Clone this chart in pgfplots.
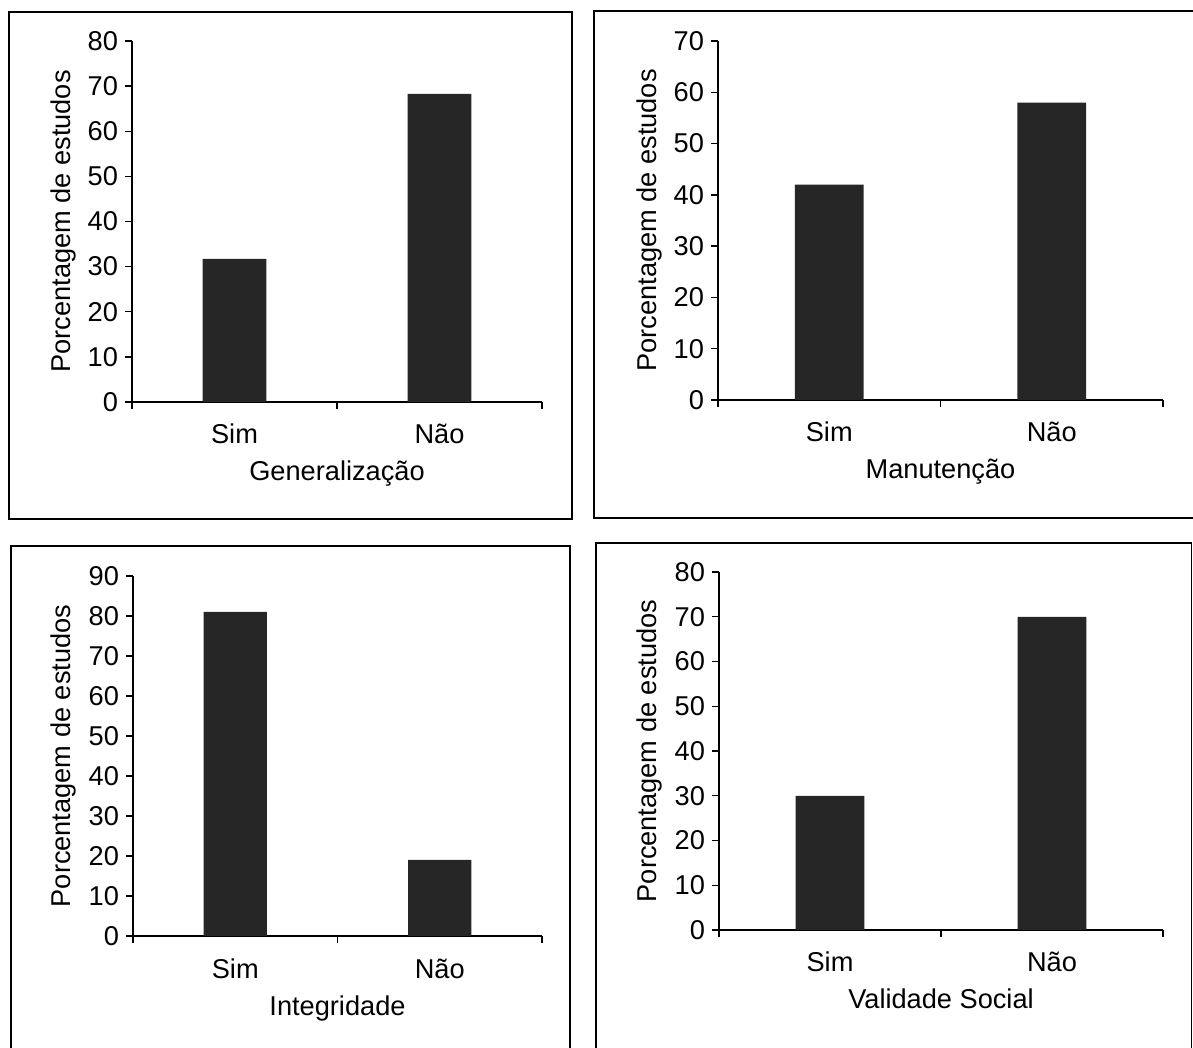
\documentclass[border=0pt]{standalone}
\usepackage{fontspec}
\setmainfont{Liberation Sans}
\usepackage{pgfplots}
\pgfplotsset{compat=1.18}
\definecolor{barc}{RGB}{38,38,38}
\newcommand{\fs}{\fontsize{13.6}{16}\selectfont}
\pgfplotsset{
  panel/.style={
    scale only axis,
    axis lines=left,
    axis line style={-, line width=0.9pt, black},
    tick align=outside,
    major tick length=3.5pt,
    tick style={black, line width=0.7pt},
    xmin=-0.5, xmax=1.5, ymin=0,
    ybar, bar width=0.31,
    xtick={-0.5,0.5,1.5}, xticklabels={},
    extra x ticks={0,1},
    extra x tick labels={Sim,Não},
    extra x tick style={major tick length=0pt, xticklabel style={anchor=base, yshift=-21pt}},
    ytick distance=10,
    /pgf/number format/assume math mode=true,
    tick label style={font=\fs},
    label style={font=\fs},
    ylabel={Porcentagem de estudos},
    xlabel style={at={(axis description cs:0.5,0)}, anchor=base, yshift=-39.5pt},
  },
  bars/.style={fill=barc, draw=none},
}
\begin{document}
\begin{tikzpicture}[x=0.5pt,y=0.5pt]
\path[use as bounding box] (0,0) rectangle (1193,1048);
% frames
\draw[line width=0.9pt] (9,1036) rectangle (572,529);
\draw[line width=0.9pt] (594,1037) rectangle (1210,530);
\draw[line width=0.9pt] (11,502) rectangle (570,-20);
\draw[line width=0.9pt] (596,505) rectangle (1191.5,-20);

\begin{axis}[panel, at={(66pt,323pt)}, anchor=south west,
  width=205pt, height=180.5pt, ymax=80,
  xlabel={Generalização},
  ylabel style={at={(axis description cs:-0.151,0.5)}, anchor=base}]
\addplot[bars] coordinates {(0,31.7) (1,68.3)};
\end{axis}

\begin{axis}[panel, at={(359pt,324pt)}, anchor=south west,
  width=222.5pt, height=179.5pt, ymax=70,
  xlabel={Manutenção},
  ylabel style={at={(axis description cs:-0.139,0.5)}, anchor=base}]
\addplot[bars] coordinates {(0,42) (1,58)};
\end{axis}

\begin{axis}[panel, at={(66.5pt,56pt)}, anchor=south west,
  width=204.5pt, height=180pt, ymax=90,
  xlabel={Integridade},
  ylabel style={at={(axis description cs:-0.152,0.5)}, anchor=base}]
\addplot[bars] coordinates {(0,81) (1,19)};
\end{axis}

\begin{axis}[panel, at={(359.5pt,59pt)}, anchor=south west,
  width=222pt, height=179pt, ymax=80,
  xlabel={Validade Social},
  ylabel style={at={(axis description cs:-0.140,0.5)}, anchor=base}]
\addplot[bars] coordinates {(0,30) (1,70)};
\end{axis}
\end{tikzpicture}
\end{document}
